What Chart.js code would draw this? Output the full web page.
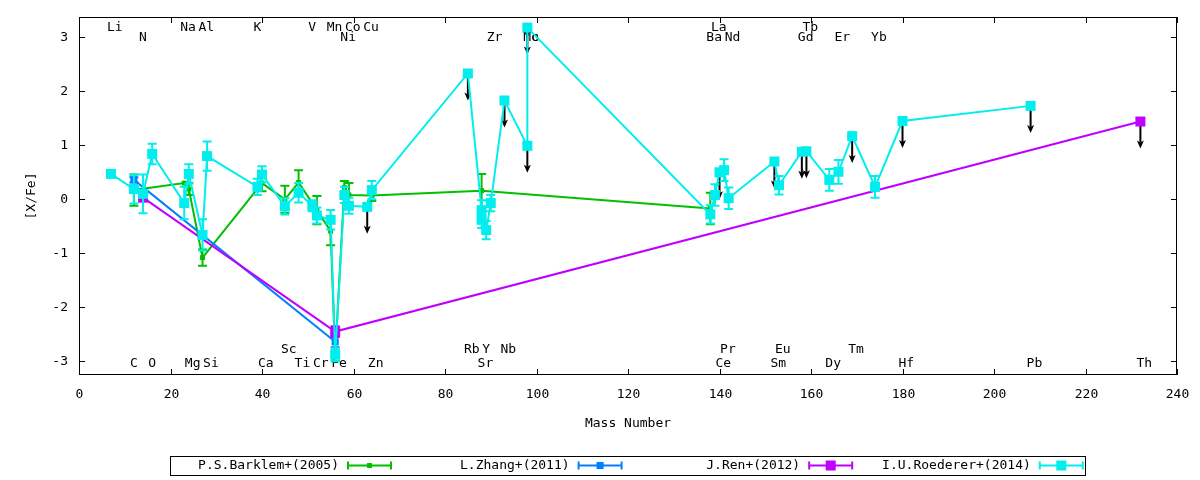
<!DOCTYPE html>
<html>
<head>
<meta charset="utf-8">
<title>[X/Fe] vs Mass Number</title>
<script src="https://cdn.jsdelivr.net/npm/chart.js@4.4.1/dist/chart.umd.min.js"></script>
<style>
  html, body { margin: 0; padding: 0; background: #fff; }
  #wrap { width: 1200px; height: 480px; }
</style>
</head>
<body>
<div id="wrap"><canvas id="chart" width="1200" height="480"></canvas></div>
<script>
// --- axis ticks ---
const xTicks = [0, 20, 40, 60, 80, 100, 120, 140, 160, 180, 200, 220, 240];
const yTicks = [-3, -2, -1, 0, 1, 2, 3];

// --- P.S.Barklem+(2005) ---
const barklemMass = [12, 23, 24, 27, 40, 45, 48, 52, 55, 56, 58, 59, 64, 88, 138];
const barklemVal  = [0.17, 0.30, 0.19, -1.08, 0.30, 0.00, 0.31, -0.20, -0.59, -2.90, 0.22, 0.08, 0.07, 0.16, -0.17];
const barklemErr  = [0.29, 0, 0.11, 0.15, 0.15, 0.25, 0.23, 0.26, 0.26, 0.10, 0.12, 0.22, 0.10, 0.31, 0.29];

// --- L.Zhang+(2011) ---
const zhangMass = [12, 56];
const zhangVal  = [0.36, -2.64];
const zhangErr  = [0.05, 0.10];

// --- J.Ren+(2012) ---
const renMass  = [14, 56, 232];
const renVal   = [0.03, -2.45, 1.44];
const renErr   = [0, 0.10, 0];
const renLimit = [0, 0, 1];

// --- I.U.Roederer+(2014) ---
const roedMass = [7, 12, 14, 16, 23, 24, 27, 28, 39, 40, 45, 48, 51, 52, 55, 56, 58, 59, 63, 64,
                  85, 88, 88, 89, 90, 93, 98, 98,
                  138, 139, 140, 141, 142, 152, 153, 158, 159, 164, 166, 169, 174, 180, 208];
const roedVal  = [0.47, 0.19, 0.10, 0.84, -0.07, 0.47, -0.66, 0.80, 0.23, 0.46, -0.13, 0.12, -0.12, -0.30, -0.38, -2.88, 0.08, -0.12, -0.14, 0.17,
                  2.33, -0.20, -0.38, -0.57, -0.07, 1.83, 0.99, 3.18,
                  -0.28, 0.08, 0.50, 0.54, 0.02, 0.70, 0.26, 0.88, 0.89, 0.36, 0.51, 1.17, 0.23, 1.45, 1.73];
const roedErr  = [0, 0.27, 0.36, 0.19, 0.30, 0.18, 0.29, 0.27, 0.15, 0.15, 0.15, 0.18, 0.10, 0.15, 0.18, 0.12, 0.15, 0.15, 0, 0.17,
                  0, 0.18, 0.15, 0.17, 0.15, 0, 0, 0,
                  0.17, 0.20, 0, 0.20, 0.20, 0, 0.17, 0, 0, 0.20, 0.22, 0, 0.20, 0, 0];
const roedLimit = [0, 0, 0, 0, 0, 0, 0, 0, 0, 0, 0, 0, 0, 0, 0, 0, 0, 0, 1, 0,
                   1, 0, 0, 0, 0, 1, 1, 1,
                   0, 0, 1, 0, 0, 1, 0, 1, 1, 0, 0, 1, 0, 1, 1];

// --- element labels ---
const elemNames = ['Li', 'Na', 'Al', 'K', 'V', 'Mn', 'Co', 'Cu', 'La', 'Tb',
                   'N', 'Ni', 'Zr', 'Mo', 'Tc', 'Ba', 'Nd', 'Gd', 'Er', 'Yb',
                   'Sc', 'Rb', 'Y', 'Nb', 'Pr', 'Eu', 'Tm',
                   'C', 'O', 'Mg', 'Si', 'Ca', 'Ti', 'Cr', 'Fe', 'Zn', 'Sr', 'Ce', 'Sm', 'Dy', 'Hf', 'Pb', 'Th'];
const elemMass  = [7, 23, 27, 39, 51, 55, 59, 63, 139, 159,
                   14, 58, 90, 98, 98, 138, 142, 158, 166, 174,
                   45, 85, 89, 93, 141, 153, 169,
                   12, 16, 24, 28, 40, 48, 52, 56, 64, 88, 140, 152, 164, 180, 208, 232];
// 0 = top row, 1 = second row, 2 = lower row, 3 = bottom row
const elemRow   = [0, 0, 0, 0, 0, 0, 0, 0, 0, 0,
                   1, 1, 1, 1, 1, 1, 1, 1, 1, 1,
                   2, 2, 2, 2, 2, 2, 2,
                   3, 3, 3, 3, 3, 3, 3, 3, 3, 3, 3, 3, 3, 3, 3, 3];

const GREEN = '#00c000', BLUE = '#0080ff', PURPLE = '#c000ff', CYAN = '#00eeee';
const FONT = '13px "DejaVu Sans Mono", "Liberation Mono", monospace';

const points = (mass, vals) => mass.map((m, i) => ({ x: m, y: vals[i] }));

// gnuplot-ish decorations: labels, arrows, error bars, border, ticks, legend
const gnuplotDecor = {
  id: 'gnuplotDecor',
  beforeDatasetsDraw(chart) {
    const { ctx, chartArea: a, scales: { x, y } } = chart;
    const rowY = [a.top + 10.5, a.top + 20.5, a.bottom - 25.5, a.bottom - 11.5];
    ctx.save();
    ctx.font = FONT;
    ctx.fillStyle = '#000';
    ctx.textAlign = 'left';
    ctx.textBaseline = 'middle';
    elemNames.forEach((n, i) => {
      ctx.fillText(n, x.getPixelForValue(elemMass[i]) - 4, rowY[elemRow[i]]);
    });

    // upper limit arrows (behind the data)
    ctx.strokeStyle = '#000';
    ctx.fillStyle = '#000';
    ctx.lineWidth = 2;
    chart.data.datasets.forEach(ds => {
      if (!ds.limits) return;
      ds.data.forEach((p, i) => {
        if (!ds.limits[i]) return;
        const px = x.getPixelForValue(p.x);
        const y0 = y.getPixelForValue(p.y);
        const y1 = y.getPixelForValue(p.y - 0.5);
        ctx.beginPath();
        ctx.moveTo(px, y0);
        ctx.lineTo(px, y1 - 6);
        ctx.stroke();
        ctx.beginPath();
        ctx.moveTo(px, y1);
        ctx.lineTo(px - 3.5, y1 - 8);
        ctx.lineTo(px, y1 - 6);
        ctx.lineTo(px + 3.5, y1 - 8);
        ctx.closePath();
        ctx.fill();
      });
    });
    ctx.restore();
  },
  beforeDatasetDraw(chart, args) {
    const ds = chart.data.datasets[args.index];
    if (!ds.errors) return;
    const { ctx, scales: { x, y } } = chart;
    ctx.save();
    ctx.strokeStyle = ds.borderColor;
    ctx.lineWidth = 2;
    ds.data.forEach((p, i) => {
      const e = ds.errors[i];
      if (!e) return;
      const px = x.getPixelForValue(p.x);
      const top = y.getPixelForValue(p.y + e);
      const bot = y.getPixelForValue(p.y - e);
      ctx.beginPath();
      ctx.moveTo(px, top); ctx.lineTo(px, bot);
      ctx.moveTo(px - 4.5, top); ctx.lineTo(px + 4.5, top);
      ctx.moveTo(px - 4.5, bot); ctx.lineTo(px + 4.5, bot);
      ctx.stroke();
    });
    ctx.restore();
  },
  afterDraw(chart) {
    const { ctx, chartArea: a, scales: { x, y } } = chart;
    ctx.save();
    ctx.strokeStyle = '#000';
    ctx.lineWidth = 1;
    ctx.strokeRect(a.left + 0.5, a.top + 0.5, a.right - a.left - 1, a.bottom - a.top - 1);

    // inward tick marks on all four sides, with their labels
    ctx.font = FONT;
    ctx.fillStyle = '#000';
    ctx.textBaseline = 'middle';
    ctx.beginPath();
    ctx.textAlign = 'center';
    xTicks.forEach(v => {
      const px = Math.round(x.getPixelForValue(v)) + 0.5;
      ctx.moveTo(px, a.bottom); ctx.lineTo(px, a.bottom - 6);
      ctx.moveTo(px, a.top); ctx.lineTo(px, a.top + 6);
      ctx.fillText(String(v), px, a.bottom + 20);
    });
    ctx.textAlign = 'right';
    yTicks.forEach(v => {
      const py = Math.round(y.getPixelForValue(v)) + 0.5;
      ctx.moveTo(a.left, py); ctx.lineTo(a.left + 6, py);
      ctx.moveTo(a.right, py); ctx.lineTo(a.right - 6, py);
      ctx.fillText(String(v), a.left - 11, py);
    });
    ctx.stroke();

    // axis titles
    ctx.textAlign = 'center';
    ctx.fillText('Mass Number', (a.left + a.right) / 2, 424);
    ctx.save();
    ctx.translate(32, (a.top + a.bottom) / 2);
    ctx.rotate(-Math.PI / 2);
    ctx.fillText('[X/Fe]', 0, 0);
    ctx.restore();

    // legend box
    const lx = 170, ly = 456, lw = 915, lh = 19, step = 230.6, ym = ly + 9.5;
    ctx.strokeRect(lx + 0.5, ly + 0.5, lw, lh);
    ctx.textAlign = 'right';
    chart.data.datasets.slice().sort((p, q) => q.order - p.order).forEach((ds, i) => {
      const x0 = lx + i * step;
      ctx.fillStyle = '#000';
      ctx.fillText(ds.label, x0 + 169, ym);
      const s0 = x0 + 178, s1 = x0 + 221;
      ctx.strokeStyle = ds.borderColor;
      ctx.lineWidth = 2;
      ctx.beginPath();
      ctx.moveTo(s0, ym); ctx.lineTo(s1, ym);
      ctx.moveTo(s0, ym - 4); ctx.lineTo(s0, ym + 4);
      ctx.moveTo(s1, ym - 4); ctx.lineTo(s1, ym + 4);
      ctx.stroke();
      const half = ds.pointRadius * Math.SQRT1_2;
      ctx.fillStyle = ds.borderColor;
      ctx.fillRect((s0 + s1) / 2 - half, ym - half, 2 * half, 2 * half);
    });
    ctx.restore();
  }
};

const lineSet = (label, color, data, errors, limits, radius, order) => ({
  label, data, errors, limits, order,
  showLine: true,
  borderColor: color,
  backgroundColor: color,
  borderWidth: 2,
  pointStyle: 'rect',
  pointRadius: radius,
  pointBorderWidth: 0,
  pointBackgroundColor: color
});

new Chart(document.getElementById('chart'), {
  type: 'scatter',
  data: {
    datasets: [
      lineSet('P.S.Barklem+(2005)', GREEN, points(barklemMass, barklemVal), barklemErr, null, 3.5, 4),
      lineSet('L.Zhang+(2011)', BLUE, points(zhangMass, zhangVal), zhangErr, null, 5, 3),
      lineSet('J.Ren+(2012)', PURPLE, points(renMass, renVal), renErr, renLimit, 7.07, 2),
      lineSet('I.U.Roederer+(2014)', CYAN, points(roedMass, roedVal), roedErr, roedLimit, 7.07, 1)
    ]
  },
  options: {
    responsive: false,
    animation: false,
    devicePixelRatio: 1,
    events: [],
    layout: { padding: { top: 17, right: 23, left: 0, bottom: 0 } },
    plugins: { legend: { display: false }, tooltip: { enabled: false } },
    scales: {
      x: {
        type: 'linear',
        min: 0,
        max: 240,
        grid: { display: false, drawTicks: false },
        border: { display: false },
        afterBuildTicks: s => { s.ticks = xTicks.map(v => ({ value: v })); },
        afterFit: s => { s.height = 105; },
        ticks: { display: false }
      },
      y: {
        type: 'linear',
        min: -3.254,
        max: 3.376,
        grid: { display: false, drawTicks: false },
        border: { display: false },
        afterBuildTicks: s => { s.ticks = yTicks.map(v => ({ value: v })); },
        afterFit: s => { s.width = 79; },
        ticks: { display: false }
      }
    }
  },
  plugins: [gnuplotDecor]
});
</script>
</body>
</html>
